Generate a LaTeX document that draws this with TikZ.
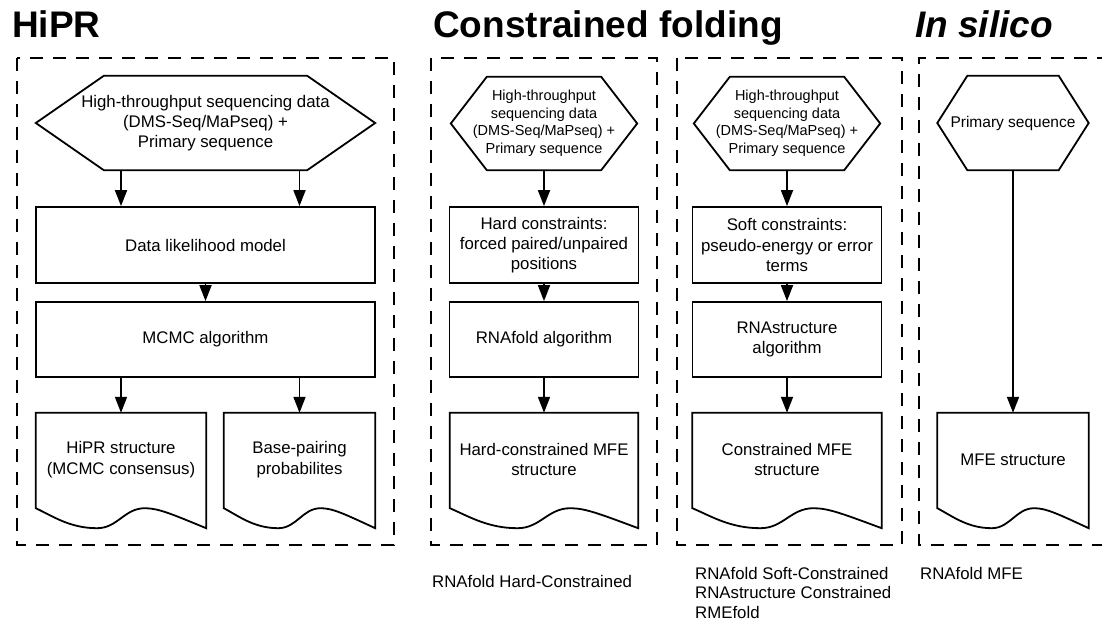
\documentclass[tikz,border=0pt]{standalone}
\usepackage{fontspec}
\setmainfont{Liberation Sans}
\usetikzlibrary{arrows.meta,calc}

\newcommand{\drawhex}[2]{%
  \draw[flow] (#1.west) -- ([xshift=#2]#1.north west) -- ([xshift=-#2]#1.north east)
    -- (#1.east) -- ([xshift=-#2]#1.south east) -- ([xshift=#2]#1.south west) -- cycle;}
\newcommand{\drawdoc}[1]{%
  \path (#1.south west) coordinate (dl) (#1.south east) coordinate (dr);
  \draw[flow] ($(dl)+(0,-20)$) -- (#1.north west) -- (#1.north east) -- (dr)
    .. controls ($(dl)!0.80!(dr)+(0,-14)$) and ($(dl)!0.72!(dr)+(0,-20)$) .. ($(dl)!0.64!(dr)+(0,-20)$)
    .. controls ($(dl)!0.52!(dr)+(0,-20)$) and ($(dl)!0.48!(dr)$) .. ($(dl)!0.36!(dr)$)
    .. controls ($(dl)!0.20!(dr)$) and ($(dl)!0.10!(dr)+(0,-12)$) .. ($(dl)+(0,-20)$) -- cycle;}

\tikzset{
  flow/.style={line width=1.8pt},
  group/.style={line width=1.8pt,dash pattern=on 13pt off 10pt},
  title/.style={anchor=base west,inner sep=0pt,font=\fontsize{37}{44}\selectfont\bfseries},
  box/.style={flow,draw,inner sep=0pt,minimum height=76pt,align=center,
    font=\fontsize{16.8}{20.3}\selectfont},
  hexa/.style={inner sep=0pt,minimum height=94pt,align=center,
    font=\fontsize{16.8}{20}\selectfont},
  small/.style={font=\fontsize{14.5}{17.5}\selectfont},
  doc/.style={inner sep=0pt,minimum height=115pt},
  doctext/.style={align=center,yshift=11pt,font=\fontsize{16.8}{20.5}\selectfont},
  note/.style={anchor=north west,inner sep=0pt,align=left,font=\fontsize{16.8}{19.5}\selectfont}
}

\begin{document}
\begin{tikzpicture}[x=1pt,y=-1pt,>={Triangle[length=16pt,width=12pt]}]
\useasboundingbox (0,0) rectangle (1102,620);

% titles
\node[title] (tHipr) at (12,38) {HiPR};
\node[title] (tCons) at (433,38) {Constrained folding};
\node[title,font=\fontsize{37}{44}\selectfont\bfseries\itshape] (tSilico) at (915,38) {In silico};

% dashed groups
\draw[group] (17,58) rectangle (394,545);
\draw[group] (431,58) rectangle (657,545);
\draw[group] (677,58) rectangle (902,545);
\draw[group] (1110,58) -| (919,545) -- (1110,545);

% HiPR
\node[hexa,minimum width=339pt] (hHex) at (205.5,123)
  {High-throughput sequencing data\\(DMS-Seq/MaPseq) +\\Primary sequence};
\drawhex{hHex}{68}
\node[box,minimum width=339pt] (hLik) at (205.5,245) {Data likelihood model};
\node[box,minimum width=339pt,minimum height=75pt] (hMcmc) at (205.5,339.5) {MCMC algorithm};
\node[doc,minimum width=170pt,label={[doctext]center:HiPR structure\\(MCMC consensus)}] (hDoc1) at (121,470.5) {};
\node[doc,minimum width=151pt,label={[doctext]center:Base-pairing\\probabilites}] (hDoc2) at (299.5,470.5) {};
\drawdoc{hDoc1}
\drawdoc{hDoc2}

\draw[flow,->] (hHex.south -| hDoc1.north) -- (hLik.north -| hDoc1.north);
\draw[flow,->] (hHex.south -| hDoc2.north) -- (hLik.north -| hDoc2.north);
\draw[flow,->] (hLik.south) -- (hMcmc.north);
\draw[flow,->] (hMcmc.south -| hDoc1.north) -- (hDoc1.north);
\draw[flow,->] (hMcmc.south -| hDoc2.north) -- (hDoc2.north);

% hard constraints
\node[hexa,small,minimum width=186pt,minimum height=93pt] (cHex) at (544,123.5)
  {High-throughput\\sequencing data\\(DMS-Seq/MaPseq) +\\Primary sequence};
\drawhex{cHex}{36}
\node[box,minimum width=189pt] (cHard) at (544,245) {Hard constraints:\\forced paired/unpaired\\positions};
\node[box,minimum width=189pt,minimum height=75pt] (cFold) at (544,339.5) {RNAfold algorithm};
\node[doc,minimum width=188pt,label={[doctext]center:Hard-constrained MFE\\structure}] (cDoc) at (544,470.5) {};
\drawdoc{cDoc}

\draw[flow,->] (cHex.south) -- (cHard.north);
\draw[flow,->] (cHard.south) -- (cFold.north);
\draw[flow,->] (cFold.south) -- (cDoc.north);

% soft constraints
\node[hexa,small,minimum width=186pt,minimum height=93pt] (sHex) at (787,123.5)
  {High-throughput\\sequencing data\\(DMS-Seq/MaPseq) +\\Primary sequence};
\drawhex{sHex}{36}
\node[box,minimum width=189pt] (sSoft) at (787,245) {Soft constraints:\\pseudo-energy or error\\terms};
\node[box,minimum width=189pt,minimum height=75pt] (sAlg) at (787,339.5) {RNAstructure\\algorithm};
\node[doc,minimum width=189pt,label={[doctext]center:Constrained MFE\\structure}] (sDoc) at (787,470.5) {};
\drawdoc{sDoc}

\draw[flow,->] (sHex.south) -- (sSoft.north);
\draw[flow,->] (sSoft.south) -- (sAlg.north);
\draw[flow,->] (sAlg.south) -- (sDoc.north);

% in silico
\node[hexa,minimum width=151pt,font=\fontsize{15.5}{18}\selectfont] (iHex) at (1013,123) {Primary sequence};
\drawhex{iHex}{30}
\node[doc,minimum width=151pt,label={[doctext]center:MFE structure}] (iDoc) at (1013,470.5) {};
\drawdoc{iDoc}

\draw[flow,->] (iHex.south) -- (iDoc.north);

% methods
\node[note] (nHard) at (432,575) {RNAfold Hard-Constrained};
\node[note] (nSoft) at (695,567) {RNAfold Soft-Constrained\\RNAstructure Constrained\\RMEfold};
\node[note] (nMfe) at (920,567) {RNAfold MFE};

\end{tikzpicture}
\end{document}
